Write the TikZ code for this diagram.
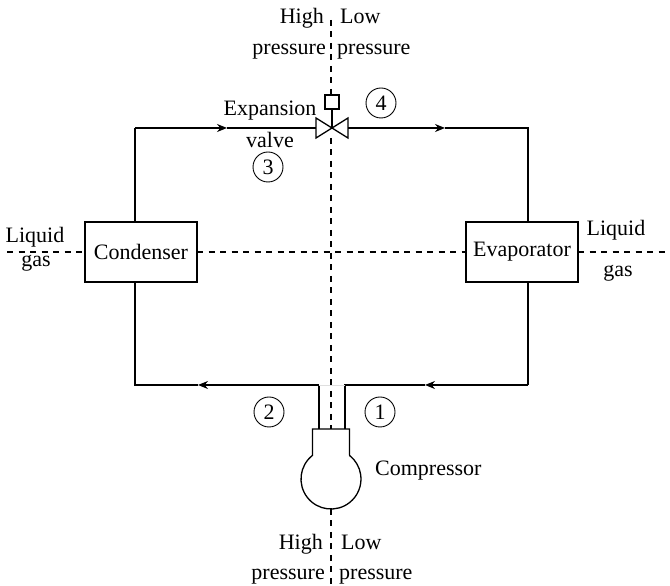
\documentclass[tikz,border=0pt]{standalone}
\usepackage{fontspec}
\setmainfont{Liberation Serif}
\usetikzlibrary{positioning}
\usetikzlibrary{arrows.meta}
\tikzstyle{novertex} = [draw=none, fill=none, inner sep=0pt, anchor=base, font=\fontsize{22}{26}\selectfont]
\tikzstyle{unit} = [rectangle, draw, line width=1.2pt, minimum width=112pt, minimum height=60pt, inner sep=0pt, outer sep=0pt, font=\fontsize{22}{26}\selectfont]
\tikzstyle{state} = [circle, draw, line width=0.9pt, minimum size=30pt, inner sep=0pt, font=\fontsize{22}{26}\selectfont]
\tikzstyle{pipe} = [draw, line width=1.3pt]
\tikzstyle{flow} = [draw, line width=1.3pt, -{Stealth[length=10pt, width=8pt]}]
\tikzstyle{divide} = [draw, line width=1.1pt, dash pattern=on 6pt off 5.5pt]
\tikzstyle{hidden} = [draw=none, inner sep=0pt, outer sep=0pt]
\begin{document}
\begin{tikzpicture}[x=1pt, y=1pt]
	\useasboundingbox (0,0) rectangle (670,586);

	% place units
	\node [unit] (cond) at (141,334) {Condenser};
	\node [unit] (evap) at (522,334) {Evaporator};
	\node [hidden, minimum width=32pt, minimum height=20pt] (valve) at (332,458) {};
	\node [rectangle, draw, line width=1.2pt, minimum size=14pt, inner sep=0pt, outer sep=0pt, above=19pt of valve.center] (stem) {};
	\node [hidden, circle, minimum size=60pt] (comp) at (331,107) {};

	% free ends and corners
	\coordinate (TL) at (135,458);
	\coordinate (TR) at (528,458);
	\coordinate (BL) at (135,201);
	\coordinate (BR) at (528,201);
	\coordinate (A1) at (227,458);
	\coordinate (A2) at (445,458);
	\coordinate (A3) at (198,201);
	\coordinate (A4) at (425,201);
	\coordinate (PL) at (319,201);
	\coordinate (PR) at (345,201);
	\coordinate (HL) at (comp.128 |- 0,157);
	\coordinate (HR) at (comp.52 |- 0,157);
	\coordinate (PLb) at (319,157);
	\coordinate (PRb) at (345,157);
	\coordinate (V1) at (331,566);
	\coordinate (V2) at (331,0);
	\coordinate (VN) at (331,157);
	\coordinate (H1) at (7,334);
	\coordinate (H2) at (670,334);

	% state numbers
	\node [state] (S1) at (380,174) {1};
	\node [state] (S2) at (269,174) {2};
	\node [state] (S3) at (268,419) {3};
	\node [state] (S4) at (381,483) {4};

	% labels
	\node [novertex, anchor=base east] (HP1) at (324,562) {High};
	\node [novertex, anchor=base west] (LP1) at (340,562) {Low};
	\node [novertex, anchor=base east] (HP2) at (326,531) {pressure};
	\node [novertex, anchor=base west] (LP2) at (337,531) {pressure};
	\node [novertex] (EX1) at (270,470) {Expansion};
	\node [novertex] (EX2) at (270,438) {valve};
	\node [novertex] (LQ1) at (35,343) {Liquid};
	\node [novertex] (GS1) at (36,319) {gas};
	\node [novertex] (LQ2) at (616,350) {Liquid};
	\node [novertex] (GS2) at (618,309) {gas};
	\node [novertex, anchor=base west] (CP) at (375,110) {Compressor};
	\node [novertex, anchor=base east] (HP3) at (323,36) {High};
	\node [novertex, anchor=base west] (LP3) at (341,36) {Low};
	\node [novertex, anchor=base east] (HP4) at (325,6) {pressure};
	\node [novertex, anchor=base west] (LP4) at (339,6) {pressure};

	% draw dividing lines
	\path [divide] (V1) -- (V1 |- stem.north);
	\path [divide] (V1 |- valve.south) -- (VN);
	\path [divide] (comp.south) -- (V2);
	\path [divide] (H1) -- (cond.west);
	\path [divide] (cond.east) -- (evap.west);
	\path [divide] (evap.east) -- (H2);

	% draw pipes
	\path [pipe] (cond.north -| TL) -- (TL);
	\path [flow] (TL) -- (A1);
	\path [pipe] (A1) -- (valve.west);
	\path [flow] (valve.east) -- (A2);
	\path [pipe] (A2) -- (TR) -- (evap.north -| TR);
	\path [pipe] (evap.south -| BR) -- (BR);
	\path [flow] (BR) -- (A4);
	\path [pipe] (A4) -- (PR) -- (PRb);
	\path [pipe] (PLb) -- (PL);
	\path [flow] (PL) -- (A3);
	\path [pipe] (A3) -- (BL) -- (cond.south -| BL);
	\path [draw, gray!25, line width=0.8pt] (PL) -- (PR);

	% draw valve
	\path [pipe] (valve.north west) -- (valve.south east) -- (valve.north east) -- (valve.south west) -- cycle;
	\path [pipe] (stem.south) -- (valve.center);

	% draw compressor
	\path [pipe] (comp.52) -- (HR) -- (HL) -- (comp.128) arc [start angle=128, delta angle=284, radius=30pt];
\end{tikzpicture}
\end{document}
